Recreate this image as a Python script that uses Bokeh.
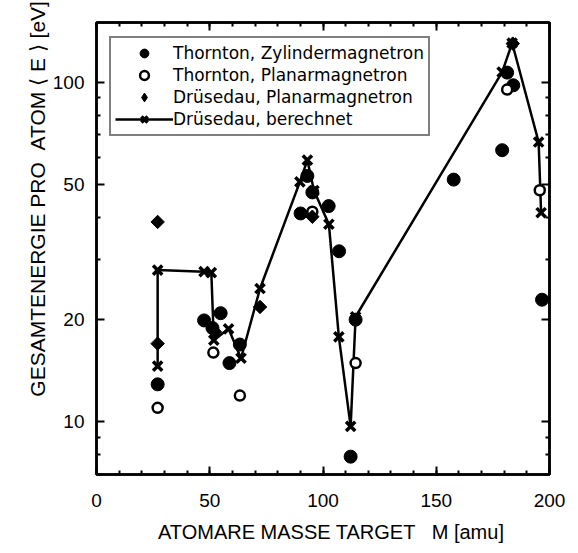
from bokeh.plotting import figure
from bokeh.models import (Range1d, FixedTicker, LinearAxis, LogAxis, Legend, LegendItem,
                          NumeralTickFormatter, CustomJSTickFormatter, ColumnDataSource)
from bokeh.embed import file_html
from bokeh.resources import INLINE
import math

# Thornton, Zylindermagnetron (filled circles)
zyl_mass = [27.0, 47.5, 51.2, 54.8, 58.7, 63.3, 90.1, 93.1, 95.3, 102.5, 107.1, 112.2, 114.4,
            157.7, 179.1, 181.3, 184.0, 196.7]
zyl_energy = [12.9, 19.9, 18.9, 20.9, 14.9, 16.9, 41.1, 53.0, 47.4, 43.2, 31.8, 7.9, 20.0,
              51.7, 63.1, 106.8, 98.0, 22.9]

# Thornton, Planarmagnetron (open circles)
plan_mass = [27.0, 51.6, 63.3, 95.3, 114.4, 181.3, 195.7]
plan_energy = [11.0, 16.0, 11.95, 41.6, 14.9, 95.2, 48.1]

# Druesedau, Planarmagnetron (diamonds)
dru_mass = [27.0, 27.0, 52.3, 72.2, 95.3, 183.8]
dru_energy = [38.8, 17.0, 18.4, 21.8, 40.2, 130.0]

# Druesedau, berechnet (line with crosses)
calc_mass = [27.0, 27.0, 47.5, 50.7, 51.8, 58.3, 63.8, 72.2, 89.8, 93.1, 96.0, 102.6, 107.0,
             112.2, 114.4, 179.1, 183.5, 195.2, 196.3]
calc_energy = [14.6, 28.0, 27.7, 27.5, 17.4, 18.8, 15.4, 24.7, 50.9, 59.0, 48.0, 38.2, 17.8,
               9.7, 20.4, 107.2, 130.5, 66.7, 41.3]

x_major = [0, 50, 100, 150, 200]
x_minor = list(range(0, 201, 10))
y_major = [10, 20, 50, 100]
y_minor = [7, 8, 9, 30, 40, 60, 70, 80, 90]

FONT = "Liberation Sans"

p = figure(width=570, height=545, x_range=Range1d(0, 200), y_range=Range1d(7, 150),
           y_axis_type="log", output_backend="svg", toolbar_location=None,
           min_border_left=96, min_border_right=21, min_border_top=22, min_border_bottom=70)
p.grid.visible = False
p.outline_line_color = "black"
p.outline_line_width = 2.5
p.background_fill_color = "white"
p.border_fill_color = "white"

xt = FixedTicker(ticks=x_major, minor_ticks=x_minor)
yt = FixedTicker(ticks=y_major, minor_ticks=y_minor)

def style(ax, labels=True):
    ax.axis_line_color = "black"
    ax.axis_line_width = 2.5
    ax.major_tick_in = 8
    ax.major_tick_out = 0
    ax.minor_tick_in = 4
    ax.minor_tick_out = 0
    ax.major_tick_line_width = 2
    ax.minor_tick_line_width = 2
    ax.major_tick_line_color = "black"
    ax.minor_tick_line_color = "black"
    if labels:
        ax.major_label_text_font = FONT
        ax.major_label_text_font_size = "19px"
        ax.major_label_text_color = "black"
        ax.axis_label_text_font = FONT
        ax.axis_label_text_font_size = "20px"
        ax.axis_label_text_font_style = "normal"
        ax.axis_label_text_color = "black"
    else:
        ax.formatter = CustomJSTickFormatter(code="return ''")
        ax.major_label_standoff = 0

xa = p.xaxis[0]
xa.ticker = xt
style(xa)
xa.major_label_standoff = 19
xa.axis_label = "\u00a0\u00a0\u00a0ATOMARE MASSE TARGET \u00a0 M [amu]"
xa.axis_label_standoff = 11

ya = p.yaxis[0]
ya.ticker = yt
ya.formatter = NumeralTickFormatter(format="0")
style(ya)
ya.major_label_standoff = 12
ya.axis_label = ("\u00a0" * 17 + "GESAMTENERGIE PRO \u00a0ATOM \u27e8 E \u27e9 [eV]")
ya.axis_label_text_font_size = "21px"
ya.axis_label_standoff = 1

top = LinearAxis(ticker=xt)
style(top, labels=False)
p.add_layout(top, "above")
right = LogAxis(ticker=yt)
style(right, labels=False)
p.add_layout(right, "right")

dru_src = ColumnDataSource(data=dict(x=dru_mass, y=dru_energy))
# diamond-shaped legend key; drawn underneath (and fully covered by) the rotated squares below
r_dru_key = p.scatter("x", "y", source=dru_src, marker="diamond", size=8,
                      fill_color="black", line_color="black", line_width=1)

r_line = p.line(calc_mass, calc_energy, line_color="black", line_width=2.5)
r_calc = p.scatter(calc_mass, calc_energy, marker="x", size=13, line_color="black", line_width=3.5)
r_zyl = p.scatter(zyl_mass, zyl_energy, marker="circle", size=13, fill_color="black", line_color="black")
r_plan = p.scatter(plan_mass, plan_energy, marker="circle", size=10, fill_color="white",
                   line_color="black", line_width=2.5)
r_dru = p.scatter("x", "y", source=dru_src, marker="square", size=9.5, angle=math.pi / 4,
                  fill_color="black", line_color="black")

legend = Legend(items=[
    LegendItem(label="Thornton, Zylindermagnetron", renderers=[r_zyl]),
    LegendItem(label="Thornton, Planarmagnetron", renderers=[r_plan]),
    LegendItem(label="Drüsedau, Planarmagnetron", renderers=[r_dru_key]),
    LegendItem(label="Drüsedau, berechnet", renderers=[r_line, r_calc]),
], location=(13, 338))
legend.label_text_font = "DejaVu Sans"
legend.label_text_font_size = "17px"
legend.label_text_color = "black"
legend.label_height = 22
legend.glyph_height = 22
legend.glyph_width = 58
legend.label_standoff = 0
legend.spacing = 0
legend.padding = 4
legend.margin = 0
legend.border_line_color = "black"
legend.border_line_width = 2
legend.background_fill_alpha = 1
p.add_layout(legend, "center")

open("out.html", "w").write(file_html(p, INLINE))
